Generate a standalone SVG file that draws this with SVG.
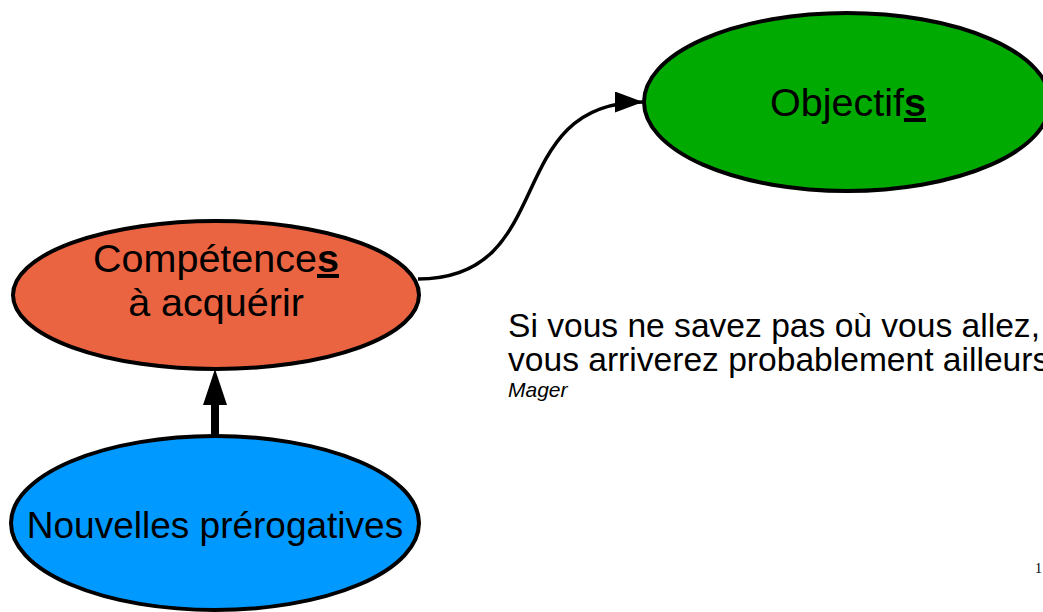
<svg xmlns="http://www.w3.org/2000/svg" width="1043" height="612" viewBox="0 0 1043 612">
<defs>
<style>
.node{stroke:#000;stroke-width:4}
.lbl{font-family:"Liberation Sans",Arial,sans-serif;font-size:39.5px;fill:#000;text-anchor:middle}
.em{font-weight:bold;text-decoration:underline}
.quote{font-family:"Liberation Sans",Arial,sans-serif;font-size:33.6px;fill:#000}
.edge{fill:none;stroke:#000;stroke-width:3.5}
</style>
<marker id="ah" markerWidth="8" markerHeight="6" refX="8" refY="3" orient="auto" markerUnits="strokeWidth">
<path d="M0,0 L8,3 L0,6 Z" fill="#000"/>
</marker>
</defs>
<rect width="1043" height="612" fill="#fff"/>
<g id="connectors">
<path class="edge" d="M418,279 C560,279 500,102 643,102" marker-end="url(#ah)"/>
<rect x="211" y="402" width="8" height="33" fill="#000"/>
<path d="M215,369 L227,405 L203,405 Z" fill="#000"/>
</g>
<g id="node-objectifs">
<ellipse class="node" cx="847" cy="102" rx="203" ry="89" fill="#00AA00"/>
<text class="lbl" x="848" y="116">Objectif<tspan class="em">s</tspan></text>
</g>
<g id="node-competences">
<ellipse class="node" cx="216" cy="295" rx="203" ry="74" fill="#EB6441"/>
<text class="lbl" x="216" y="272">Compétence<tspan class="em">s</tspan></text>
<text class="lbl" x="216" y="316">à acquérir</text>
</g>
<g id="node-prerogatives">
<ellipse class="node" cx="215" cy="523" rx="204" ry="87" fill="#0099FF"/>
<text class="lbl" x="215" y="538" style="font-size:37px">Nouvelles prérogatives</text>
</g>
<g id="quote">
<text class="quote" x="508" y="337">Si vous ne savez pas où vous allez,</text>
<text class="quote" x="508" y="371">vous arriverez probablement ailleurs.</text>
<text x="508" y="397" font-family="Liberation Sans, Arial, sans-serif" font-size="21" font-style="italic">Mager</text>
</g>
<text x="1035" y="573" font-family="Liberation Serif, serif" font-size="14">1</text>
</svg>
